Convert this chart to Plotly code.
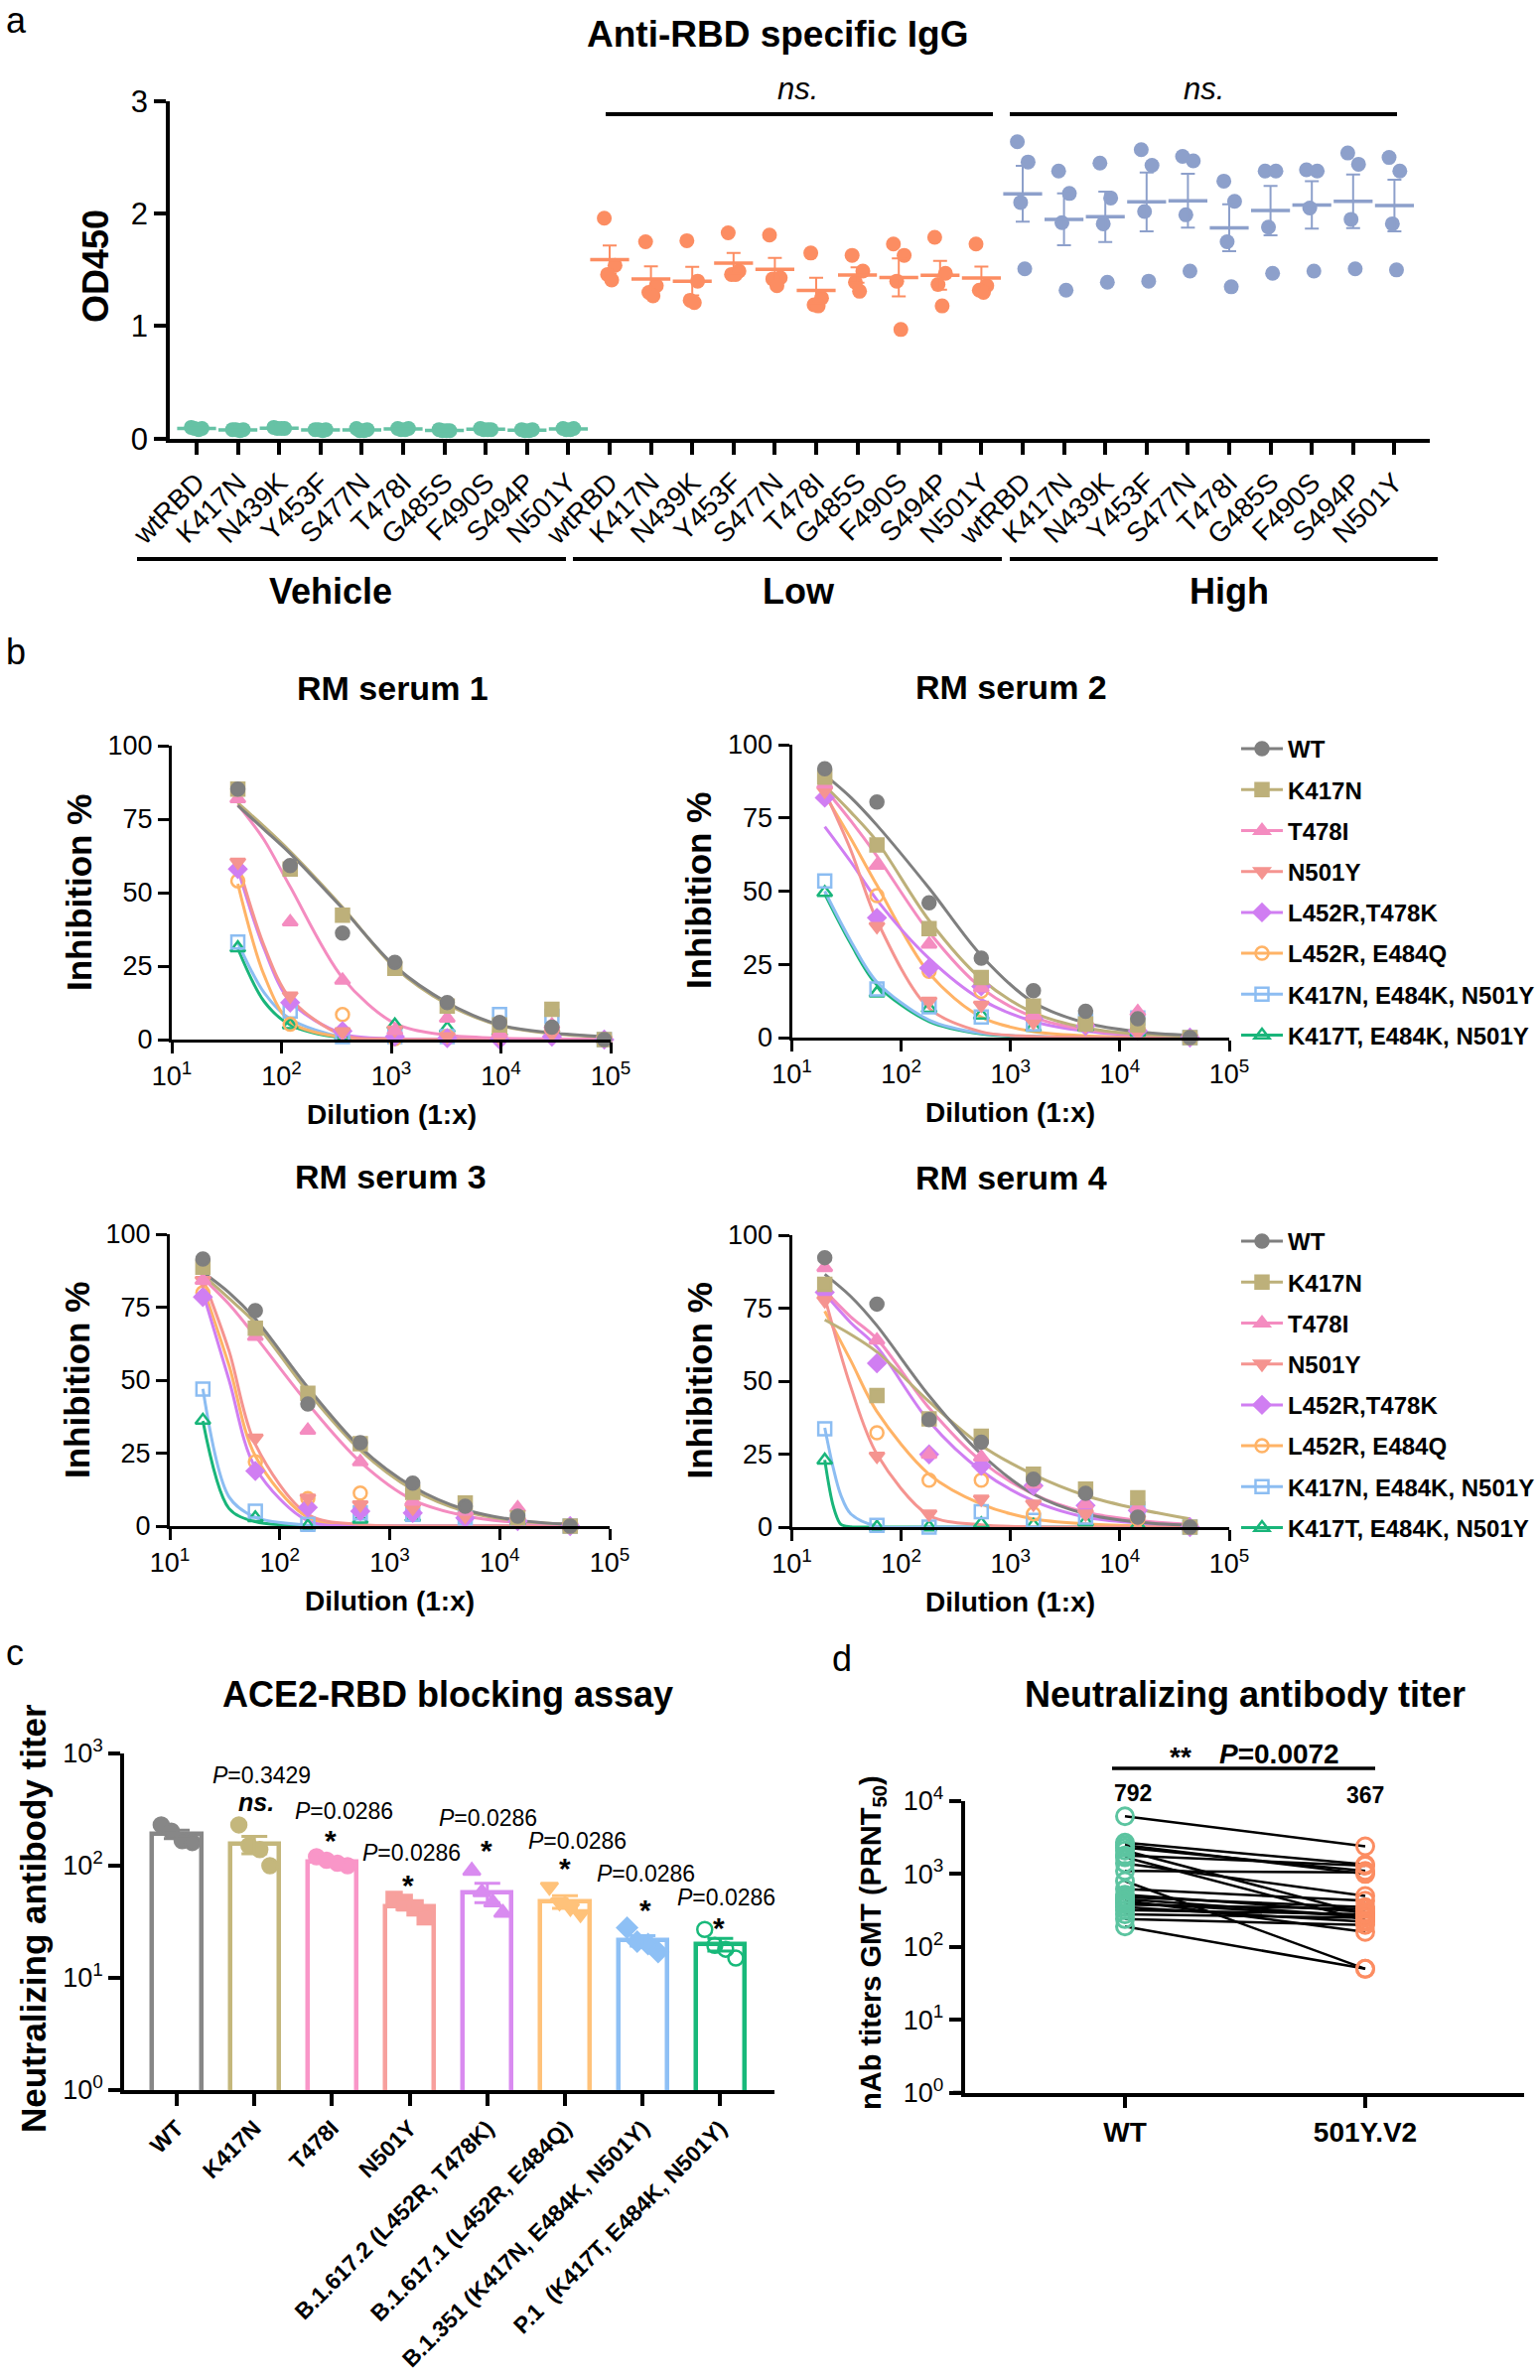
import numpy as np
import plotly.graph_objects as go

W, H = 1551, 2397
FONT = "Liberation Sans, Arial, Helvetica, sans-serif"

# ======================= DATA =======================
# ---- panel a: Anti-RBD specific IgG (OD450), 4 animals per bar ----
A_MUTANTS = ["wtRBD", "K417N", "N439K", "Y453F", "S477N", "T478I", "G485S", "F490S", "S494P", "N501Y"]
A_GROUPS = ["Vehicle", "Low", "High"]
A_VEHICLE = [
    [0.10, 0.09, 0.09, 0.08], [0.08, 0.08, 0.08, 0.07], [0.10, 0.09, 0.09, 0.09],
    [0.08, 0.08, 0.08, 0.07], [0.09, 0.08, 0.07, 0.07], [0.09, 0.09, 0.08, 0.08],
    [0.08, 0.07, 0.07, 0.07], [0.09, 0.08, 0.08, 0.08], [0.08, 0.08, 0.07, 0.07],
    [0.09, 0.09, 0.08, 0.08],
]
A_LOW = [
    [1.96, 1.54, 1.46, 1.41], [1.75, 1.36, 1.30, 1.27], [1.76, 1.40, 1.23, 1.21],
    [1.83, 1.49, 1.46, 1.46], [1.81, 1.43, 1.42, 1.36], [1.65, 1.25, 1.19, 1.18],
    [1.63, 1.49, 1.39, 1.31], [1.73, 1.63, 1.40, 0.97], [1.79, 1.47, 1.37, 1.18],
    [1.73, 1.36, 1.32, 1.30],
]
A_HIGH = [
    [2.64, 2.46, 2.10, 1.51], [2.38, 2.18, 1.92, 1.32], [2.45, 2.14, 1.91, 1.39],
    [2.57, 2.43, 2.02, 1.40], [2.51, 2.47, 1.99, 1.49], [2.29, 2.11, 1.75, 1.35],
    [2.38, 2.38, 1.88, 1.47], [2.39, 2.38, 2.05, 1.49], [2.54, 2.44, 1.95, 1.51],
    [2.50, 2.38, 1.91, 1.50],
]
A_COLORS = ["#66C2A5", "#FC8D62", "#8DA0CB"]
A_NS = ["ns.", "ns."]

# ---- panel b: inhibition curves ----
B_TITLES = ["RM serum 1", "RM serum 2", "RM serum 3", "RM serum 4"]
B_VARIANTS = ["WT", "K417N", "T478I", "N501Y", "L452R,T478K", "L452R, E484Q",
              "K417N, E484K, N501Y", "K417T, E484K, N501Y"]
B_COLORS = ["#7F7F7F", "#BDB07A", "#F48CC0", "#F59490", "#D07EF2", "#FFB366", "#8CBDF2", "#19B57A"]
B_SYMBOLS = ["circle", "square", "triangle-up", "triangle-down", "diamond",
             "circle-open", "square-open", "triangle-up-open"]

DIL_S1 = [40, 120, 360, 1080, 3240, 9720, 29160, 87480]
DIL_S234 = [20, 60, 180, 540, 1620, 4860, 14580, 43740]
FIT_X_S1 = [40, 69.3, 120, 360, 1080, 3240, 9720, 29160, 87480]
FIT_X_S234 = [20, 34.6, 60, 180, 540, 1620, 4860, 14580, 43740]
FIT_X_S4_STEEP = [20, 24, 28, 34.6, 60, 180, 540, 1620, 4860, 14580, 43740]

S1_PTS = [
    [85.2, 59.2, 36.2, 26.3, 12.6, 5.8, 4.2, 0],
    [85.2, 58.0, 42.3, 24.2, 11.4, 5.0, 10.3, 0],
    [81.9, 40.0, 20.2, 3.0, 7.3, 2.0, 5.0, 0],
    [60.4, 14.9, 2.7, 3.3, 1.0, 0.5, 2.0, 0],
    [58.0, 12.6, 2.9, 1.0, 0.5, 0.0, 1.0, 0],
    [54.0, 5.2, 8.5, 0.3, 1.0, 2.7, 3.8, 0],
    [33.2, 9.7, 1.0, 1.0, 1.0, 8.5, 7.9, 0],
    [31.2, 5.0, 1.0, 5.0, 3.8, 2.7, 3.8, 0],
]
S1_FIT = [
    [79.6, 71.5, 63.3, 44.6, 25.0, 12.6, 5.0, 2.3, 1.0],
    [80.5, 72.5, 64.0, 45.0, 24.5, 12.0, 4.8, 2.0, 0.9],
    [80.0, 68.0, 52.0, 21.0, 5.5, 1.5, 0.5, 0.2, 0.1],
    [60.0, 32.0, 14.0, 1.5, 0.2, 0, 0, 0, 0],
    [58.0, 31.0, 13.0, 2.0, 0.3, 0, 0, 0, 0],
    [53.0, 22.0, 6.0, 0.8, 0.1, 0, 0, 0, 0],
    [33.0, 16.0, 7.0, 0.8, 0.1, 0, 0, 0, 0],
    [31.0, 13.0, 5.0, 0.5, 0, 0, 0, 0, 0],
]
S2_PTS = [
    [91.8, 80.4, 46.0, 27.1, 16.0, 9.0, 6.4, 0],
    [88.9, 65.8, 37.2, 20.5, 10.8, 4.7, 4.3, 0],
    [86.5, 58.8, 31.9, 17.0, 7.6, 5.3, 8.8, 0],
    [84.2, 38.0, 12.5, 11.1, 5.3, 4.0, 1.8, 0],
    [81.9, 40.9, 23.7, 17.5, 6.4, 4.0, 2.3, 0],
    [87.7, 48.5, 22.6, 15.8, 7.6, 5.3, 2.9, 0],
    [53.5, 16.6, 10.5, 7.0, 4.7, 5.8, 6.7, 0],
    [49.5, 15.2, 9.9, 7.6, 3.5, 3.5, 1.8, 0],
]
S2_FIT = [
    [89.7, 82.0, 72.5, 51.0, 28.0, 12.0, 5.0, 2.0, 0.7],
    [86.0, 77.0, 67.0, 40.0, 20.0, 8.5, 3.3, 1.2, 0.4],
    [85.0, 74.0, 62.0, 36.0, 17.0, 7.0, 2.7, 1.0, 0.3],
    [84.0, 64.0, 40.0, 10.0, 2.0, 0.4, 0.1, 0, 0],
    [72.0, 60.0, 47.0, 27.0, 13.0, 5.5, 2.2, 0.8, 0.3],
    [83.0, 68.0, 52.0, 22.0, 7.0, 2.0, 0.6, 0.2, 0],
    [50.0, 33.0, 19.0, 6.0, 1.5, 0.4, 0, 0, 0],
    [49.0, 32.0, 18.0, 5.5, 1.3, 0.3, 0, 0, 0],
]
S3_PTS = [
    [91.5, 73.8, 41.8, 28.6, 14.7, 6.8, 3.4, 0],
    [88.7, 67.8, 45.5, 28.2, 11.6, 7.9, 2.8, 0],
    [84.2, 65.0, 32.8, 22.0, 8.5, 5.1, 6.2, 0],
    [84.2, 30.2, 9.6, 7.3, 6.2, 3.4, 1.7, 0],
    [78.5, 18.9, 6.4, 5.1, 4.5, 2.8, 1.7, 0],
    [79.9, 22.0, 9.4, 11.3, 7.3, 3.4, 1.7, 0],
    [46.9, 5.1, 0.6, 4.5, 4.0, 2.8, 1.7, 0],
    [36.2, 2.8, 0.0, 2.3, 3.0, 3.4, 1.7, 0],
]
S3_FIT = [
    [87.0, 80.0, 71.0, 47.5, 27.0, 13.5, 5.6, 2.0, 0.6],
    [86.0, 78.0, 69.5, 46.0, 26.0, 12.5, 5.0, 1.8, 0.6],
    [85.0, 76.0, 65.0, 42.0, 22.0, 9.0, 3.5, 1.2, 0.4],
    [85.0, 60.0, 28.0, 4.0, 0.5, 0, 0, 0, 0],
    [80.0, 50.0, 20.0, 1.8, 0.2, 0, 0, 0, 0],
    [82.0, 55.0, 24.0, 3.0, 0.3, 0, 0, 0, 0],
    [47.0, 10.0, 3.0, 0.3, 0, 0, 0, 0, 0],
    [36.0, 6.0, 1.5, 0.1, 0, 0, 0, 0, 0],
]
S4_PTS = [
    [92.3, 76.4, 36.8, 29.1, 16.4, 11.6, 3.4, 0],
    [83.2, 45.1, 37.1, 31.1, 18.1, 13.0, 10.0, 0],
    [88.9, 64.0, 24.9, 24.0, 14.7, 7.9, 6.8, 0],
    [77.6, 24.3, 4.5, 9.6, 7.9, 4.5, 2.8, 0],
    [80.4, 56.1, 24.9, 21.0, 14.2, 7.4, 5.7, 0],
    [80.2, 32.3, 16.1, 16.1, 4.5, 6.8, 2.8, 0],
    [33.7, 0.6, 0.0, 5.3, 2.3, 3.4, 6.2, 0],
    [22.9, 0.0, 0.0, 1.1, 0.6, 1.7, 0.6, 0],
]
S4_FIT = [
    [86.6, 79.0, 69.0, 45.0, 25.0, 11.3, 4.5, 1.7, 0.6],
    [71.0, 66.0, 60.0, 43.0, 28.0, 18.0, 10.8, 6.2, 2.8],
    [81.0, 72.0, 64.5, 40.8, 22.6, 11.3, 5.1, 2.3, 0.9],
    [78.7, 48.0, 25.0, 4.0, 0.8, 0.1, 0, 0, 0],
    [80.0, 70.0, 61.7, 36.2, 19.3, 9.0, 3.4, 1.4, 0.5],
    [74.0, 57.0, 39.6, 18.1, 7.9, 2.8, 1.1, 0.4, 0.1],
    [34.0, 20.0, 11.0, 4.5, 0.3, 0, 0, 0, 0, 0, 0],
    [23.0, 7.0, 1.0, 0.1, 0, 0, 0, 0, 0, 0, 0],
]

# ---- panel c: ACE2-RBD blocking assay ----
C_LABELS = ["WT", "K417N", "T478I", "N501Y", "B.1.617.2 (L452R, T478K)",
            "B.1.617.1 (L452R, E484Q)", "B.1.351 (K417N, E484K, N501Y)",
            "P.1\u00a0 (K417T, E484K, N501Y)"]
C_VALUES = [
    [231, 203, 167, 161], [231, 151, 139, 100], [120, 112, 105, 100], [50, 47, 42, 35],
    [90, 58, 47, 38], [65, 47, 42, 37], [28, 21, 20, 17], [27, 19.5, 18, 15],
]
C_COLORS = ["#878787", "#C4B77C", "#F996C8", "#F7A09D", "#D98BF0", "#FFC27A", "#8EC0F5", "#18B97A"]
C_SYMBOLS = ["circle", "circle", "circle", "square", "triangle-up", "triangle-down", "diamond", "circle-open"]
C_PVALUES = ["0.3429", "0.0286", "0.0286", "0.0286", "0.0286", "0.0286", "0.0286"]
C_SIG = ["ns.", "*", "*", "*", "*", "*", "*"]

# ---- panel d: paired nAb titers ----
D_GROUPS = ["WT", "501Y.V2"]
D_WT = [6200, 2700, 2500, 2300, 2100, 1800, 1700, 1400, 1100, 800, 620,
        520, 480, 450, 430, 400, 380, 350, 320, 280, 240, 190]
D_V2 = [2400, 1350, 1000, 1100, 280, 1300, 230, 500, 1050, 50, 430,
        300, 350, 260, 160, 260, 330, 220, 280, 250, 200, 50]
D_GMT = ["792", "367"]
D_PVALUE = "0.0072"
D_COLORS = ["#5CC4A0", "#FC8D62"]

# ======================= HELPERS =======================
fig = go.Figure()


def fx(p):
    return p / W


def fy(p):
    return 1 - p / H


def ann(text, x, y, size, bold=False, italic=False, angle=0, xanchor="center", yanchor="middle"):
    t = text
    if italic:
        t = f"<i>{t}</i>"
    if bold:
        t = f"<b>{t}</b>"
    fig.add_annotation(text=t, x=fx(x), y=fy(y), xref="paper", yref="paper", showarrow=False,
                       font=dict(family=FONT, size=size, color="black"), textangle=angle,
                       xanchor=xanchor, yanchor=yanchor)


def hline(x0, x1, y, w=3.5):
    fig.add_shape(type="line", x0=fx(x0), x1=fx(x1), y0=fy(y), y1=fy(y), xref="paper", yref="paper",
                  line=dict(color="black", width=w))


def axis(dom, **kw):
    d = dict(domain=dom, showline=True, linecolor="black", linewidth=3.5, ticks="outside",
             tickcolor="black", tickwidth=3.5, ticklen=12, showgrid=False, zeroline=False,
             automargin=False, tickfont=dict(family=FONT, size=28, color="black"))
    d.update(kw)
    return d


layout_axes = {}

# ======================= PANEL a =======================
A_C0, A_STEP = 198.0, 41.6
A_OFFS = [-0.13, 0.13, -0.05, 0.05]
for g, (vals, color) in enumerate(zip([A_VEHICLE, A_LOW, A_HIGH], A_COLORS)):
    xs, ys, mx, means, sems = [], [], [], [], []
    for m, pts in enumerate(vals):
        ci = g * len(A_MUTANTS) + m
        for k, v in enumerate(pts):
            xs.append(ci + A_OFFS[k])
            ys.append(v)
        arr = np.array(pts, dtype=float)
        mx.append(ci)
        means.append(arr.mean())
        sems.append(arr.std(ddof=1) / np.sqrt(len(arr)))
    fig.add_trace(go.Scatter(x=xs, y=ys, mode="markers", marker=dict(color=color, size=15),
                             xaxis="x", yaxis="y", showlegend=False, cliponaxis=False))
    fig.add_trace(go.Scatter(x=mx, y=means, mode="markers",
                             marker=dict(symbol="line-ew", size=28, color=color,
                                         line=dict(color=color, width=3.5)),
                             error_y=dict(type="data", array=sems, color=color, thickness=2, width=7),
                             xaxis="x", yaxis="y", showlegend=False, cliponaxis=False))

n_a = len(A_MUTANTS) * len(A_GROUPS)
layout_axes["xaxis"] = axis([fx(171), fx(1440)], anchor="y",
                            range=[(171 - A_C0) / A_STEP, (1440 - A_C0) / A_STEP],
                            tickvals=list(range(n_a)), ticktext=A_MUTANTS * len(A_GROUPS),
                            tickangle=-45, ticklen=13,
                            tickfont=dict(family=FONT, size=28, color="black"))
layout_axes["yaxis"] = axis([fy(441.7), fy(102)], anchor="x", range=[0, 3],
                            tickvals=[0, 1, 2, 3], tickfont=dict(family=FONT, size=31, color="black"))
hline(156, 171, 441.7, 3.5)
ann("a", 4, -2, 36, xanchor="left", yanchor="top")
ann("Anti-RBD specific IgG", 783, 34, 37, bold=True)
ann("OD450", 97, 268, 36, bold=True, angle=-90)
hline(610, 1000, 115, 4)
hline(1017, 1407, 115, 4)
ann(A_NS[0], 803, 89, 31, italic=True)
ann(A_NS[1], 1212, 89, 31, italic=True)
hline(138, 570, 563, 4)
hline(577, 1009, 563, 4)
hline(1017, 1448, 563, 4)
ann(A_GROUPS[0], 333, 596, 36, bold=True)
ann(A_GROUPS[1], 804, 596, 36, bold=True)
ann(A_GROUPS[2], 1238, 596, 36, bold=True)

# ======================= PANEL b =======================
B_BOX = [  # (x_left, x_right, y_top(100), y_bottom(0)) in px
    (173, 615, 751, 1047),
    (797.5, 1238, 750, 1045),
    (171, 614, 1243, 1537),
    (797.5, 1238, 1244, 1538),
]
B_DATA = [
    (DIL_S1, S1_PTS, [FIT_X_S1] * 8, S1_FIT),
    (DIL_S234, S2_PTS, [FIT_X_S234] * 8, S2_FIT),
    (DIL_S234, S3_PTS, [FIT_X_S234] * 8, S3_FIT),
    (DIL_S234, S4_PTS, [FIT_X_S234] * 6 + [FIT_X_S4_STEEP] * 2, S4_FIT),
]
DEC_TICKS = [10, 100, 1000, 10000, 100000]
DEC_TEXT = [f"10<sup>{k}</sup>" for k in range(1, 6)]
for p, ((dil, pts, fxs, fys), (xl, xr, yt, yb)) in enumerate(zip(B_DATA, B_BOX)):
    ax = f"x{p + 2}"
    ay = f"y{p + 2}"
    for v in reversed(range(8)):
        fig.add_trace(go.Scatter(x=fxs[v], y=fys[v], mode="lines",
                                 line=dict(color=B_COLORS[v], width=3, shape="spline", smoothing=0.9),
                                 xaxis=ax, yaxis=ay, showlegend=False))
    for v in reversed(range(8)):
        fig.add_trace(go.Scatter(x=dil, y=pts[v], mode="markers",
                                 marker=dict(symbol=B_SYMBOLS[v], size=13, color=B_COLORS[v],
                                             line=dict(color=B_COLORS[v], width=2.5)),
                                 xaxis=ax, yaxis=ay, showlegend=False, cliponaxis=False))
    layout_axes[f"xaxis{p + 2}"] = axis([fx(xl), fx(xr)], anchor=ay, type="log", range=[1, 5],
                                        tickvals=DEC_TICKS, ticktext=DEC_TEXT, linewidth=3,
                                        tickwidth=3, ticklen=11,
                                        tickfont=dict(family=FONT, size=27, color="black"))
    layout_axes[f"yaxis{p + 2}"] = axis([fy(yb), fy(yt)], anchor=ax, range=[0, 100],
                                        tickvals=[0, 25, 50, 75, 100], linewidth=3, tickwidth=3,
                                        ticklen=11, tickfont=dict(family=FONT, size=27, color="black"))
    cx = (xl + xr) / 2
    ann(B_TITLES[p], cx + 1, yt - 58, 34, bold=True)
    ann("Dilution (1:x)", cx, yb + 75, 28, bold=True)
    ann("Inhibition %", xl - 94, (yt + yb) / 2, 35, bold=True, angle=-90)

# legends (serum 2 and serum 4)
for leg, ax, ay in [("legend", "x3", "y3"), ("legend2", "x5", "y5")]:
    for v in range(8):
        fig.add_trace(go.Scatter(x=[None], y=[None], mode="lines+markers", name=f"<b>{B_VARIANTS[v]}</b>",
                                 line=dict(color=B_COLORS[v], width=3),
                                 marker=dict(symbol=B_SYMBOLS[v], size=13, color=B_COLORS[v],
                                             line=dict(color=B_COLORS[v], width=2.5)),
                                 xaxis=ax, yaxis=ay, legend=leg, legendgroup=f"{leg}_{v}",
                                 showlegend=True))
ann("b", 4, 657, 36, xanchor="left")

# ======================= PANEL c =======================
C_C0, C_STEP = 178.0, 78.2
C_OFFS = [-0.2, -0.07, 0.07, 0.2]
c_means = [float(np.mean(v)) for v in C_VALUES]
c_sems = [float(np.std(v, ddof=1) / np.sqrt(len(v))) for v in C_VALUES]
fig.add_trace(go.Bar(x=list(range(len(C_LABELS))), y=c_means, width=0.63,
                     marker=dict(color="white", line=dict(color=C_COLORS, width=4.5)),
                     xaxis="x6", yaxis="y6", showlegend=False))
for i, vals in enumerate(C_VALUES):
    fig.add_trace(go.Scatter(x=[i + o for o in C_OFFS], y=vals, mode="markers",
                             marker=dict(symbol=C_SYMBOLS[i], size=15, color=C_COLORS[i],
                                         line=dict(color=C_COLORS[i], width=2.5)),
                             xaxis="x6", yaxis="y6", showlegend=False, cliponaxis=False))
    fig.add_trace(go.Scatter(x=[i], y=[c_means[i]], mode="markers",
                             marker=dict(size=1, color="rgba(0,0,0,0)"),
                             error_y=dict(type="data", array=[c_sems[i]], color=C_COLORS[i],
                                          thickness=3, width=13),
                             xaxis="x6", yaxis="y6", showlegend=False, cliponaxis=False))
layout_axes["xaxis6"] = axis([fx(125), fx(780)], anchor="y6",
                             range=[(125 - C_C0) / C_STEP, (780 - C_C0) / C_STEP],
                             tickvals=list(range(len(C_LABELS))),
                             ticktext=[f"<b>{t}</b>" for t in C_LABELS], tickangle=-45,
                             tickfont=dict(family=FONT, size=23, color="black"))
layout_axes["yaxis6"] = axis([fy(2105), fy(1766)], anchor="x6", type="log", range=[0, 3],
                             tickvals=[1, 10, 100, 1000],
                             ticktext=[f"10<sup>{k}</sup>" for k in range(4)],
                             tickfont=dict(family=FONT, size=27, color="black"))
hline(112, 125, 2105, 3.5)
ann("c", 4, 1665, 36, xanchor="left")
ann("ACE2-RBD blocking assay", 451, 1706, 36, bold=True)
ann("Neutralizing antibody titer", 33, 1932, 35, bold=True, angle=-90)
C_P_POS = [(263, 1788), (346, 1824), (414, 1866), (492, 1831), (581, 1854), (650, 1887), (731, 1911)]
C_S_POS = [(258, 1815), (333, 1854), (411, 1898), (490, 1863), (569, 1881), (650, 1923), (724, 1941)]
for k in range(len(C_PVALUES)):
    ann(f"<i>P</i>={C_PVALUES[k]}", C_P_POS[k][0], C_P_POS[k][1], 23)
    if C_SIG[k] == "ns.":
        ann(C_SIG[k], C_S_POS[k][0], C_S_POS[k][1], 25, bold=True, italic=True)
    else:
        ann(C_SIG[k], C_S_POS[k][0], C_S_POS[k][1], 30, bold=True)

# ======================= PANEL d =======================
D_C0, D_STEP = 1133.0, 242.0
lx, ly = [], []
for a, b in zip(D_WT, D_V2):
    lx += [0, 1, None]
    ly += [a, b, None]
fig.add_trace(go.Scatter(x=lx, y=ly, mode="lines", line=dict(color="black", width=2.5),
                         xaxis="x7", yaxis="y7", showlegend=False))
for j, vals in enumerate([D_WT, D_V2]):
    fig.add_trace(go.Scatter(x=[j] * len(vals), y=vals, mode="markers",
                             marker=dict(symbol="circle-open", size=17, color=D_COLORS[j],
                                         line=dict(color=D_COLORS[j], width=3)),
                             xaxis="x7", yaxis="y7", showlegend=False, cliponaxis=False))
layout_axes["xaxis7"] = axis([fx(971.5), fx(1535)], anchor="y7",
                             range=[(971.5 - D_C0) / D_STEP, (1535 - D_C0) / D_STEP],
                             tickvals=[0, 1], ticktext=[f"<b>{t}</b>" for t in D_GROUPS],
                             tickfont=dict(family=FONT, size=28, color="black"))
layout_axes["yaxis7"] = axis([fy(2107.5), fy(1814)], anchor="x7", type="log", range=[0, 4],
                             tickvals=[1, 10, 100, 1000, 10000],
                             ticktext=[f"10<sup>{k}</sup>" for k in range(5)],
                             tickfont=dict(family=FONT, size=27, color="black"))
hline(960, 971.5, 2107.5, 3.5)
ann("d", 836, 1670, 36, xanchor="left")
ann("Neutralizing antibody titer", 1254, 1706, 36, bold=True)
ann("nAb titers GMT (PRNT<sub>50</sub>)", 879, 1957, 29, bold=True, angle=-90)
hline(1120, 1385, 1781, 3.5)
ann("**", 1189, 1770, 28, bold=True)
ann(f"<i>P</i>={D_PVALUE}", 1288, 1766, 28, bold=True)
ann(D_GMT[0], 1141, 1806, 23, bold=True)
ann(D_GMT[1], 1375, 1808, 23, bold=True)

# ======================= LAYOUT =======================
legend_common = dict(xanchor="left", yanchor="top", bgcolor="rgba(0,0,0,0)",
                     font=dict(family=FONT, size=24, color="black"), tracegroupgap=7,
                     itemwidth=42, traceorder="grouped", borderwidth=0)
fig.update_layout(
    width=W, height=H, margin=dict(l=0, r=0, t=0, b=0),
    paper_bgcolor="white", plot_bgcolor="rgba(0,0,0,0)",
    font=dict(family=FONT, color="black"),
    legend=dict(x=fx(1245), y=fy(732), **legend_common),
    legend2=dict(x=fx(1245), y=fy(1228), **legend_common),
    bargap=0.0,
    **layout_axes,
)
fig.write_html("out.html")
